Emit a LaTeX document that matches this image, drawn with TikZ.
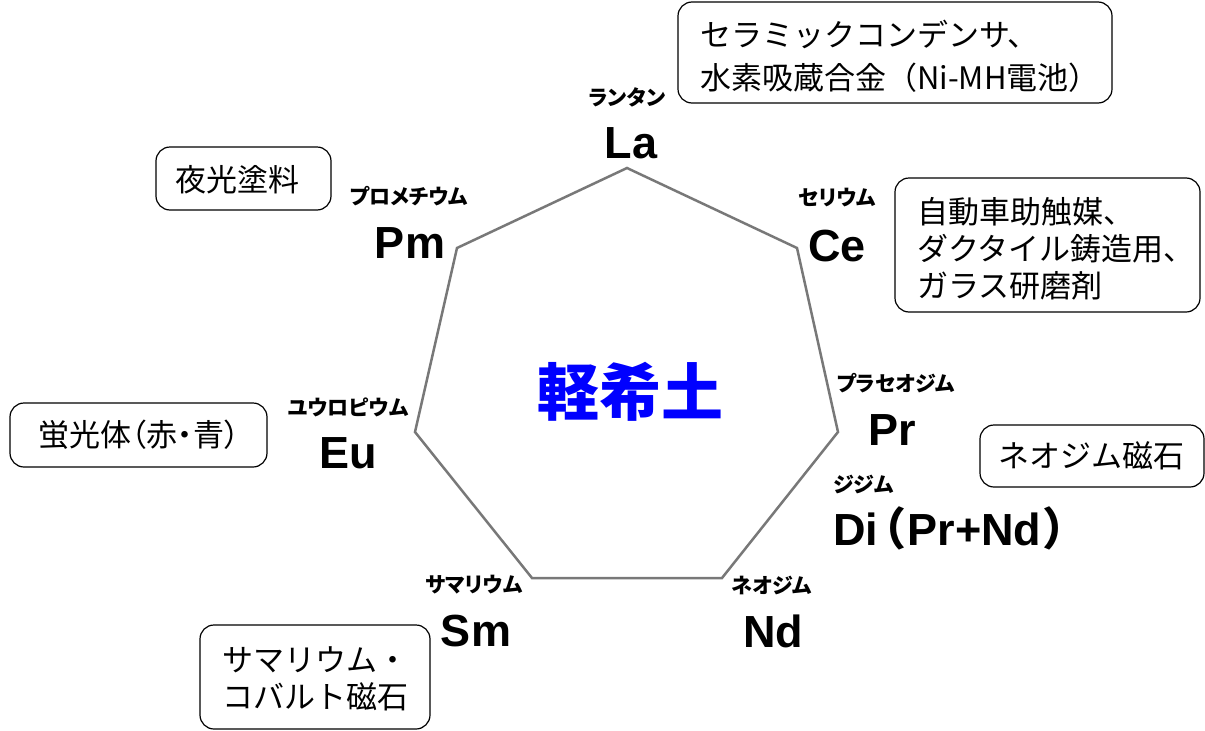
\documentclass[tikz,border=0pt]{standalone}
\usepackage{fontspec}
\setmainfont{Liberation Sans}
\newfontfamily\jp{Noto Sans CJK JP}
\newfontfamily\jpp{Noto Sans CJK JP}[RawFeature=+palt]
\definecolor{hepgray}{RGB}{120,120,120}
\definecolor{centerblue}{RGB}{0,0,255}
\begin{document}
\begin{tikzpicture}[x=1pt,y=-1pt,
  box/.style={draw, rounded corners=14pt, line width=1.2pt, inner sep=0pt},
  boxtext/.style={font=\jp\fontsize{31}{37}\selectfont, align=left, inner sep=0pt, anchor=west},
  sym/.style={font=\bfseries\fontsize{45}{45}\selectfont, inner sep=0pt, anchor=base},
  kana/.style={font=\jpp\bfseries\fontsize{21}{21}\selectfont, inner sep=0pt}]
\useasboundingbox (0,0) rectangle (1205,731);

% heptagon
\coordinate (v1) at (627,168);
\coordinate (v2) at (797,248);
\coordinate (v3) at (838,432);
\coordinate (v4) at (722,578);
\coordinate (v5) at (532,578);
\coordinate (v6) at (415,432);
\coordinate (v7) at (457,248);
\draw[hepgray, line width=2.5pt, line join=miter] (v1) -- (v2) -- (v3) -- (v4) -- (v5) -- (v6) -- (v7) -- cycle;

\node[font=\jp\bfseries\fontsize{62}{62}\selectfont, text=centerblue] (center) at (630,392) {軽希土};

% element symbols
\node[sym] (La) at (631,158) {La};
\node[sym] (Ce) at (837,261) {Ce};
\node[sym] (Pr) at (892,445) {Pr};
\node[sym, anchor=base west] (Di) at (833,545) {Di\kern4pt{\jpp （}\kern3pt Pr+Nd\kern3pt{\jpp ）}};
\node[sym] (Nd) at (773,647) {Nd};
\node[sym] (Sm) at (476,646) {Sm};
\node[sym] (Eu) at (348,468) {Eu};
\node[sym] (Pm) at (410,258) {Pm};

% katakana names
\node[kana] (kLa) at (627,97) {ランタン};
\node[kana] (kCe) at (837,198) {セリウム};
\node[kana] (kPr) at (896,383) {プラセオジム};
\node[kana, anchor=west] (kDi) at (833,484) {ジジム};
\node[kana] (kNd) at (772,585) {ネオジム};
\node[kana] (kSm) at (474,585) {サマリウム};
\node[kana] (kEu) at (348,407) {ユウロピウム};
\node[kana] (kPm) at (409,196) {プロメチウム};

% use boxes
\node[box, minimum width=434pt, minimum height=101pt] (bLa) at (895,52.5) {};
\node[boxtext, font=\jp\fontsize{31}{43}\selectfont] (tLa) at (700,56.5) {セラミックコンデンサ、\\水素吸蔵合金（Ni-MH電池）};
\node[box, minimum width=305pt, minimum height=134pt] (bCe) at (1047.5,245) {};
\node[boxtext] (tCe) at (917,249) {自動車助触媒、\\ダクタイル鋳造用、\\ガラス研磨剤};
\node[box, minimum width=224pt, minimum height=62pt] (bNd) at (1092,456) {};
\node[boxtext] (tNd) at (998,456) {ネオジム磁石};
\node[box, minimum width=230pt, minimum height=104pt] (bSm) at (315,677) {};
\node[boxtext] (tSm) at (222,678.5) {サマリウム・\\コバルト磁石};
\node[box, minimum width=257pt, minimum height=64pt] (bEu) at (138.5,435) {};
\node[boxtext, font=\jpp\fontsize{31}{37}\selectfont] (tEu) at (38,435) {蛍光体（赤・青）};
\node[box, minimum width=175pt, minimum height=63pt] (bPm) at (243.5,178.5) {};
\node[boxtext] (tPm) at (175,180) {夜光塗料};
\end{tikzpicture}
\end{document}
